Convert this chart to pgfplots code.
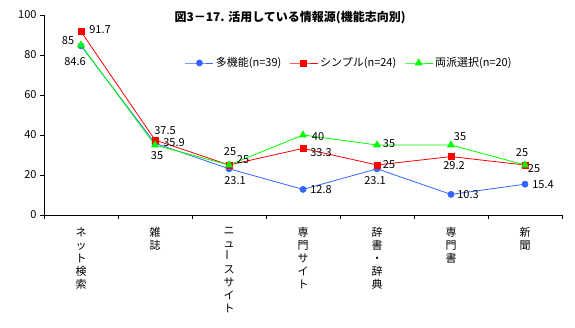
\documentclass[border=0pt]{standalone}
\usepackage{fontspec}
\setmainfont{Noto Sans CJK JP}
\usepackage{graphicx}
\usepackage{pgfplots}
\usepackage{pgfplotstable}
\pgfplotsset{compat=1.18}
\definecolor{cBlue}{RGB}{51,102,255}
\definecolor{cRed}{RGB}{255,0,0}
\definecolor{cGreen}{RGB}{0,255,0}

\pgfplotstableread{
x y dx dy
1 84.6 -6 -16
2 35.9 19 1
3 23.1 6 -12
4 12.8 18 0
5 23.1 -2 -12
6 10.3 17 0
7 15.4 18 0
}\tabMulti
\pgfplotstableread{
x y dx dy
1 91.7 19 2
2 37.5 10 9
3 25 1 13
4 33.3 18 -4
5 25 12 0
6 29.2 3 -9
7 25 -3 12
}\tabSimple
\pgfplotstableread{
x y dx dy
1 85 -13 4
2 35 2 -11
3 25 14 5
4 40 15 -2
5 35 12 1
6 35 9 8
7 25 9 -4
}\tabBoth

\begin{document}
\begin{tikzpicture}
\path[use as bounding box] (-44pt,-113pt) rectangle (531pt,215pt);
\begin{axis}[
  at={(0pt,0pt)}, anchor=south west,
  scale only axis, width=518pt, height=200pt,
  xmin=0.5, xmax=7.5, ymin=0, ymax=100,
  axis x line=bottom, axis y line=left,
  axis line style={-, line width=0.8pt},
  xtick={1,2,3,4,5,6,7},
  xticklabels={{ネ\\ッ\\ト\\検\\索},{雑\\誌},{ニ\\ュ\\\rotatebox{90}{ー}\\ス\\サ\\イ\\ト},{専\\門\\サ\\イ\\ト},{辞\\書\\・\\辞\\典},{専\\門\\書},{新\\聞}},
  xticklabel style={align=center, anchor=north, font=\fontsize{11}{13}\selectfont, yshift=-5pt},
  major x tick style={draw=none},
  minor xtick={0.5,1.5,2.5,3.5,4.5,5.5,6.5,7.5},
  ytick={0,20,40,60,80,100},
  yticklabel style={font=\fontsize{11}{13}\selectfont},
  /pgf/number format/assume math mode=true,
  tick align=outside,
  major tick length=4pt, minor tick length=4pt,
  tick style={black, line width=0.8pt},
  legend style={at={(0.272,0.76)}, anchor=west, draw=none, fill=none,
    font=\fontsize{11}{13}\selectfont, inner sep=0pt,
    legend columns=3, /tikz/every even column/.append style={column sep=6pt}},
  legend cell align=left,
  legend image code/.code={\draw[mark repeat=2,mark phase=2,#1] plot coordinates {(0pt,0pt) (14pt,0pt) (28pt,0pt)};},
  nodes near coords,
  visualization depends on={\thisrow{dx}\as\myDX},
  visualization depends on={\thisrow{dy}\as\myDY},
  every node near coord/.append style={anchor=center, inner sep=0pt, font=\fontsize{11}{13}\selectfont, text=black, xshift=\myDX pt, yshift=\myDY pt},
  clip=false,
]
\addplot[color=cBlue, line width=0.8pt, mark=*, mark size=3pt, mark options={fill=cBlue, draw=cBlue}] table[x=x,y=y] {\tabMulti};
\addlegendentry{多機能(n=39)}
\addplot[color=cRed, line width=0.8pt, mark=square*, mark size=3pt, mark options={fill=cRed, draw=cRed}] table[x=x,y=y] {\tabSimple};
\addlegendentry{シンプル(n=24)}
\addplot[color=cGreen, line width=0.8pt, mark=triangle*, mark size=3.8pt, mark options={fill=cGreen, draw=cGreen}] table[x=x,y=y] {\tabBoth};
\addlegendentry{両派選択(n=20)}
\node[font=\bfseries\fontsize{12}{14}\selectfont, anchor=center] at (axis description cs:0.475,0.985) {図3－17. 活用している情報源(機能志向別)};
\end{axis}
\end{tikzpicture}
\end{document}
